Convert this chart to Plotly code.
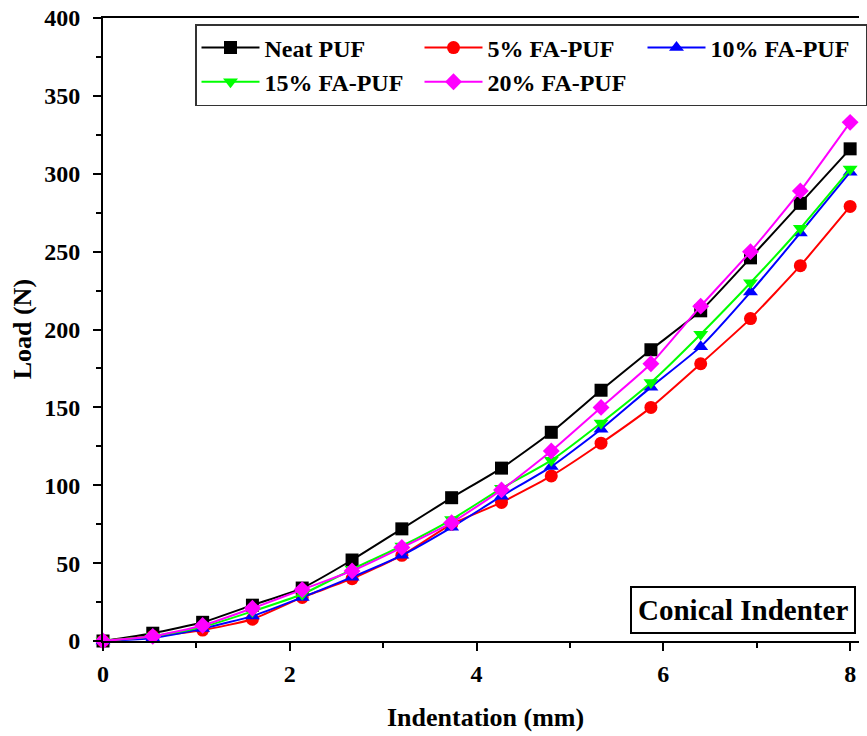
import plotly.graph_objects as go

indentation = [0, 0.533, 1.067, 1.6, 2.133, 2.667, 3.2, 3.733, 4.267, 4.8, 5.333, 5.867, 6.4, 6.933, 7.467, 8.0]
neat_puf = [0, 5, 12, 23, 34, 52, 72, 92, 111, 134, 161, 187, 212, 246, 281, 316]
fa5_puf = [0, 3, 7, 14, 28, 40, 55, 75, 89, 106, 127, 150, 178, 207, 241, 279]
fa10_puf = [0, 2, 8, 16, 28, 41, 55, 73, 93, 112, 136, 163, 189, 224, 262, 301]
fa15_puf = [0, 3, 9, 19, 30, 46, 61, 78, 98, 116, 140, 166, 197, 230, 265, 303]
fa20_puf = [0, 3, 10, 21, 33, 45, 60, 76, 97, 122, 150, 178, 215, 250, 289, 333]

series_names = ["Neat PUF", "5% FA-PUF", "10% FA-PUF", "15% FA-PUF", "20% FA-PUF"]
series_values = [neat_puf, fa5_puf, fa10_puf, fa15_puf, fa20_puf]
colors = ["#000000", "#FF0000", "#0000FF", "#00FF00", "#FF00FF"]
symbols = ["square", "circle", "triangle-up", "triangle-down", "diamond"]

FONT = "Liberation Serif"
W, H = 867, 736
L = 103
T = 18
BOT = 641
B = H - BOT
PW = W - L
PH = BOT - T


def px(xp):
    return (xp - L) / PW


def py(yp):
    return (BOT - yp) / PH


fig = go.Figure()
for name, vals, c, s in zip(series_names, series_values, colors, symbols):
    fig.add_trace(go.Scatter(
        x=indentation, y=vals, name=name, mode="lines+markers",
        line=dict(color=c, width=2, shape="spline", smoothing=0.5),
        marker=dict(symbol=s, size=13, color=c),
        cliponaxis=False,
    ))

axis_common = dict(
    showline=True, linecolor="black", linewidth=2,
    ticks="outside", ticklen=8, tickwidth=2, tickcolor="black",
    showgrid=False, zeroline=False, automargin=False,
    ticklabeloverflow="allow",
    tickfont=dict(family=FONT, size=24, color="black", weight="bold"),
)

fig.update_layout(
    width=W, height=H,
    margin=dict(l=L, r=0, t=T, b=B),
    plot_bgcolor="white", paper_bgcolor="white",
    xaxis=dict(range=[0, 8.095], tickvals=[0, 2, 4, 6, 8], mirror=True,
               minor=dict(tickvals=[1, 3, 5, 7], ticks="outside", ticklen=5, tickwidth=2, tickcolor="black"),
               ticklabelstandoff=2,
               **axis_common),
    yaxis=dict(range=[0, 400], tickvals=[0, 50, 100, 150, 200, 250, 300, 350, 400],
               minor=dict(tickvals=[25, 75, 125, 175, 225, 275, 325, 375], ticks="outside", ticklen=5, tickwidth=2, tickcolor="black"),
               ticklabelstandoff=8,
               **axis_common),
    legend=dict(
        orientation="h", x=px(196), y=py(24), xanchor="left", yanchor="top",
        font=dict(family=FONT, size=24, color="black", weight="bold"),
        bordercolor="#333333", borderwidth=1.5, bgcolor="white",
        entrywidth=150, itemwidth=58,
    ),
    showlegend=True,
    annotations=[
        dict(text="Indentation (mm)", xref="paper", yref="paper",
             x=px(490), y=py(717), xanchor="center", yanchor="middle",
             showarrow=False, font=dict(family=FONT, size=26, color="black", weight="bold")),
        dict(text="Load (N)", xref="paper", yref="paper", textangle=-90,
             x=px(22), y=0.5, xanchor="center", yanchor="middle",
             showarrow=False, font=dict(family=FONT, size=26, color="black", weight="bold")),
        dict(text="Conical Indenter", xref="paper", yref="paper",
             x=px(636), y=py(610), xanchor="left", yanchor="middle",
             showarrow=False, bordercolor="black", borderwidth=2, borderpad=6, bgcolor="white",
             font=dict(family=FONT, size=29, color="black", weight="bold")),
    ],
)

fig.write_html("out.html", config={"displayModeBar": False},
               post_script="document.body.style.margin='0';document.body.style.overflow='hidden';")
